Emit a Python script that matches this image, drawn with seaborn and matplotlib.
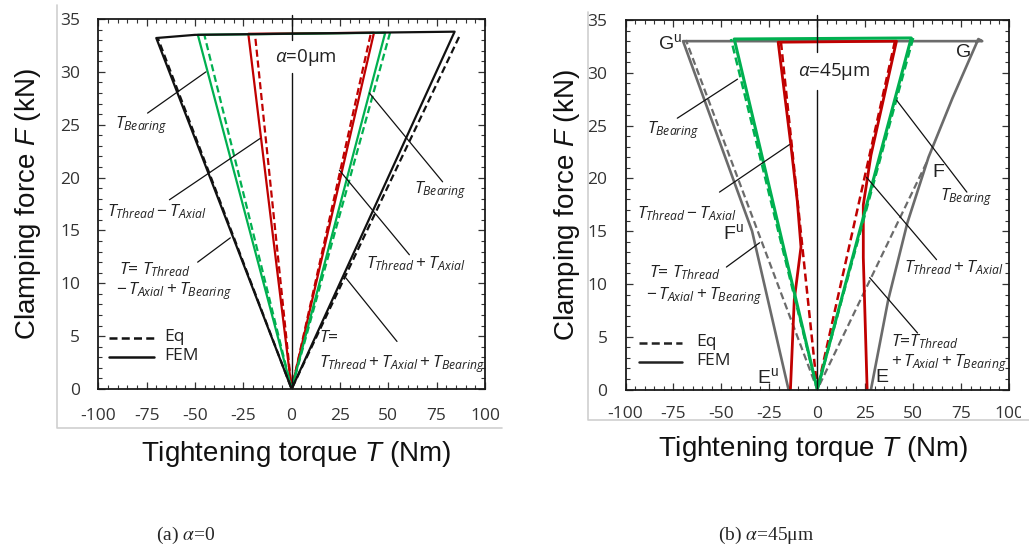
import matplotlib
matplotlib.use("Agg")
import matplotlib.pyplot as plt
import pandas as pd
import seaborn as sns
from matplotlib.lines import Line2D
from matplotlib.transforms import Bbox, TransformedBbox

# ---------------------------------------------------------------------------
# Clamping force F (kN) versus tightening torque T (Nm)
# FEM curves are tightening/loosening loops, Eq curves are the analytical lines
# ---------------------------------------------------------------------------

# (a) alpha = 0
a_total_fem_T = [0, 84.3, -50, -70, 0]
a_total_fem_F = [0, 33.8, 33.5, 33.2, 0]
a_total_eq_T = [86.6, 0, -69]
a_total_eq_F = [33.3, 0, 33.1]
a_bearing_fem_T = [0, 48.4, -48.5, 0]
a_bearing_fem_F = [0, 33.7, 33.5, 0]
a_bearing_eq_T = [50.9, 0, -45.0]
a_bearing_eq_F = [33.7, 0, 33.4]
a_thread_fem_T = [0, 42.6, -22.4, 0]
a_thread_fem_F = [0, 33.7, 33.6, 0]
a_thread_eq_T = [40.8, 0, -18.8]
a_thread_eq_F = [33.5, 0, 33.3]

# (b) alpha = 45 um
b_total_fem_T = [28, 37, 47, 58, 70.5, 84, 86, -70, -34, -15]
b_total_fem_F = [0, 8.5, 15.8, 22.0, 27.6, 33.2, 33.0, 33.0, 15.0, 0]
b_total_eq_T = [57, 0, -68.5]
b_total_eq_F = [21.5, 0, 33.1]
b_bearing_fem_T = [0, 49.0, -43.3, 0]
b_bearing_fem_F = [0, 33.3, 33.2, 0]
b_bearing_eq_T = [50.0, 0, -45.0]
b_bearing_eq_F = [33.3, 0, 33.2]
b_thread_fem_T = [26, 24, 24, 28, 41.3, -20.4, -13.6, -10.4, -8.5, -12, -14]
b_thread_fem_F = [0, 12.5, 17.5, 22.2, 33.0, 32.9, 22.9, 17.8, 13.5, 8.5, 0]
b_thread_eq_T = [40.5, 0, -19.0]
b_thread_eq_F = [33.0, 0, 33.0]

x_ticks = [-100, -75, -50, -25, 0, 25, 50, 75, 100]
y_ticks = [0, 5, 10, 15, 20, 25, 30, 35]

BLACK = "#111111"
GREY = "#6b6b6b"
GREEN = "#00b050"
RED = "#c00000"

sns.set_style("white")
plt.rcParams["font.family"] = ["Open Sans", "DejaVu Sans"]
plt.rcParams["axes.unicode_minus"] = False
plt.rcParams["mathtext.fontset"] = "custom"
plt.rcParams["mathtext.it"] = "Open Sans:italic"
plt.rcParams["mathtext.rm"] = "Open Sans"
plt.rcParams["mathtext.sf"] = "Liberation Sans"
plt.rcParams["mathtext.cal"] = "Liberation Sans:italic"

fig = plt.figure(figsize=(10.29, 5.49), dpi=100)
ax_a = fig.add_axes([0.0955, 0.2914, 0.3758, 0.6740])
ax_b = fig.add_axes([0.6079, 0.2905, 0.3727, 0.6730])

DASH = (0, (3.2, 1.7))


def curve(ax, T, F, color, dashed=False, lw=1.6):
    df = pd.DataFrame({"T": T, "F": F})
    sns.lineplot(data=df, x="T", y="F", sort=False, estimator=None,
                 color=color, lw=lw, linestyle=DASH if dashed else "-",
                 ax=ax, legend=False)


def leader(ax, p0, p1):
    ax.plot([p0[0], p1[0]], [p0[1], p1[1]], color=BLACK, lw=0.9)


def note(ax, x, y, s, size=12.5, ha="center"):
    ax.text(x, y, s, ha=ha, va="center", size=size, color="#222222")


def frame(ax, xpad_label):
    ax.set_xlim(-100, 100)
    ax.set_ylim(0, 35)
    ax.set_xticks(x_ticks)
    ax.set_yticks(y_ticks)
    ax.set_xticks(range(-100, 101, 5), minor=True)
    ax.set_yticks(range(0, 36), minor=True)
    ax.tick_params(which="both", direction="in", top=True, right=True,
                   bottom=True, left=True, color="#333333")
    ax.tick_params(which="major", length=5, width=0.9, labelsize=12.5,
                   labelcolor="#333333")
    ax.tick_params(axis="y", which="major", pad=13)
    ax.tick_params(axis="x", which="major", pad=xpad_label)
    ax.tick_params(which="minor", length=3.2, width=0.8)
    for s in ax.spines.values():
        s.set_color("#1a1a1a")
        s.set_linewidth(1.3)
    ax.set_xlabel(r"Tightening torque $\mathcal{T}$ (Nm)",
                  family="Liberation Sans", size=20, color="#111111")
    ax.set_ylabel(r"Clamping force $\mathcal{F}$ (kN)",
                  family="Liberation Sans", size=20, color="#111111")


def legend(ax, x0, x1, xt, y_eq, y_fem, color):
    ax.plot([x0, x1], [y_eq, y_eq], color=color, lw=1.8, linestyle=DASH)
    ax.plot([x0, x1], [y_fem, y_fem], color=color, lw=1.8)
    note(ax, xt, y_eq + 0.1, "Eq", ha="left")
    note(ax, xt, y_fem + 0.1, "FEM", ha="left")


# ---------------- (a) alpha = 0 ----------------
ax = ax_a
curve(ax, a_thread_fem_T, a_thread_fem_F, RED)
curve(ax, a_thread_eq_T, a_thread_eq_F, RED, dashed=True)
curve(ax, a_bearing_fem_T, a_bearing_fem_F, GREEN)
curve(ax, a_bearing_eq_T, a_bearing_eq_F, GREEN, dashed=True)
curve(ax, a_total_eq_T, a_total_eq_F, BLACK, dashed=True)
curve(ax, a_total_fem_T, a_total_fem_F, BLACK)
ax.plot([0, 0], [35.4, 33.0], color=BLACK, lw=1.0, clip_on=False)
ax.plot([0, 0], [29.9, 0], color=BLACK, lw=1.0)
note(ax, 7.4, 31.4, r"$\alpha$=0μm", size=13.5)

leader(ax, (-74.5, 26.1), (-44.3, 30.0))
note(ax, -77.9, 25.0, r"$T_{Bearing}$")
leader(ax, (-63.2, 17.9), (-16.3, 23.7))
note(ax, -69.7, 16.8, r"$T_{Thread} - T_{Axial}$")
leader(ax, (-48.6, 12.0), (-31.7, 14.3))
note(ax, -89.1, 11.3, r"$T$= $T_{Thread}$", ha="left")
note(ax, -90.8, 9.3, r"$-\,T_{Axial} + T_{Bearing}$", ha="left")
leader(ax, (40.2, 28.0), (78.1, 19.6))
note(ax, 76.9, 18.8, r"$T_{Bearing}$")
leader(ax, (24.7, 20.7), (60.9, 12.7))
note(ax, 64.2, 11.9, r"$T_{Thread} + T_{Axial}$")
leader(ax, (28.1, 10.5), (54.5, 4.5))
note(ax, 14.3, 4.8, r"$T$=", ha="left")
note(ax, 14.3, 2.4, r"$T_{Thread} + T_{Axial} + T_{Bearing}$", ha="left")
legend(ax, -94.3, -71.0, -65.8, 4.8, 3.05, BLACK)
frame(ax, 14)
ax.yaxis.set_label_coords(-0.143, 0.5)
ax.xaxis.set_label_coords(0.512, -0.135)

# ---------------- (b) alpha = 45 um ----------------
ax = ax_b
curve(ax, b_total_eq_T, b_total_eq_F, GREY, dashed=True)
curve(ax, b_total_fem_T, b_total_fem_F, GREY, lw=1.9)
curve(ax, b_thread_eq_T, b_thread_eq_F, RED, dashed=True, lw=1.8)
curve(ax, b_thread_fem_T, b_thread_fem_F, RED, lw=2.0)
curve(ax, b_bearing_eq_T, b_bearing_eq_F, GREEN, dashed=True, lw=1.8)
curve(ax, b_bearing_fem_T, b_bearing_fem_F, GREEN, lw=2.2)
ax.plot([0, 0], [35.5, 32.0], color=BLACK, lw=1.0, clip_on=False)
ax.plot([0, 0], [28.4, 0], color=BLACK, lw=1.0)
note(ax, 9.0, 30.1, r"$\alpha$=45μm", size=13.5)

for label, tx, fy in [(r"$\mathsf{G^{u}}$", -76.6, 32.8), (r"$\mathsf{G}$", 75.9, 32.0),
                      (r"$\mathsf{F^{u}}$", -44.0, 14.8), (r"$\mathsf{F}$", 63.3, 20.6),
                      (r"$\mathsf{E^{u}}$", -26.0, 1.2), (r"$\mathsf{E}$", 33.6, 1.2)]:
    note(ax, tx, fy, label, size=14)

leader(ax, (-73.0, 25.7), (-41.6, 29.4))
note(ax, -75.3, 24.6, r"$T_{Bearing}$")
leader(ax, (-51.0, 18.7), (-14.5, 23.2))
note(ax, -68.0, 16.7, r"$T_{Thread} - T_{Axial}$")
leader(ax, (-47.4, 11.6), (-30.1, 13.9))
note(ax, -87.6, 11.1, r"$T$= $T_{Thread}$", ha="left")
note(ax, -89.1, 8.9, r"$-\,T_{Axial} + T_{Bearing}$", ha="left")
leader(ax, (41.4, 27.4), (78.0, 18.7))
note(ax, 77.7, 18.2, r"$T_{Bearing}$")
leader(ax, (25.7, 20.1), (62.2, 12.3))
note(ax, 71.4, 11.5, r"$T_{Thread} + T_{Axial}$")
leader(ax, (27.3, 10.6), (52.3, 5.35))
note(ax, 38.7, 4.5, r"$T$=$T_{Thread}$", ha="left")
note(ax, 38.7, 2.5, r"$+\,T_{Axial} + T_{Bearing}$", ha="left")
legend(ax, -92.8, -70.3, -63.0, 4.4, 2.6, "#222222")
frame(ax, 12)
ax.yaxis.set_label_coords(-0.113, 0.5)
ax.xaxis.set_label_coords(0.49, -0.12)

# light chart-area borders (left and bottom edges)
for xs, ys in [([57, 57, 502], [5, 428, 428]), ([588, 588, 1029], [12, 420, 420])]:
    fig.add_artist(Line2D([x / 1029 for x in xs], [1 - y / 549 for y in ys],
                          transform=fig.transFigure, color="#cfcfcf", lw=1.2))

# the right-most tick label of each panel is cut by the chart-area edge
for ax, xr in [(ax_a, 502), (ax_b, 1021)]:
    lab = ax.xaxis.get_major_ticks()[-1].label1
    lab.set_clip_box(TransformedBbox(Bbox.from_extents(0, 0, xr / 1029, 1),
                                     fig.transFigure))
    lab.set_clip_on(True)

fig.text(186 / 1029, 1 - 535 / 549, r"(a) $\alpha$=0", ha="center", va="center",
         family="Liberation Serif", size=14, math_fontfamily="stix")
fig.text(766 / 1029, 1 - 535 / 549, r"(b) $\alpha$=45μm", ha="center", va="center",
         family="Liberation Serif", size=14, math_fontfamily="stix")

fig.savefig("out.png", dpi=100, facecolor="white")
